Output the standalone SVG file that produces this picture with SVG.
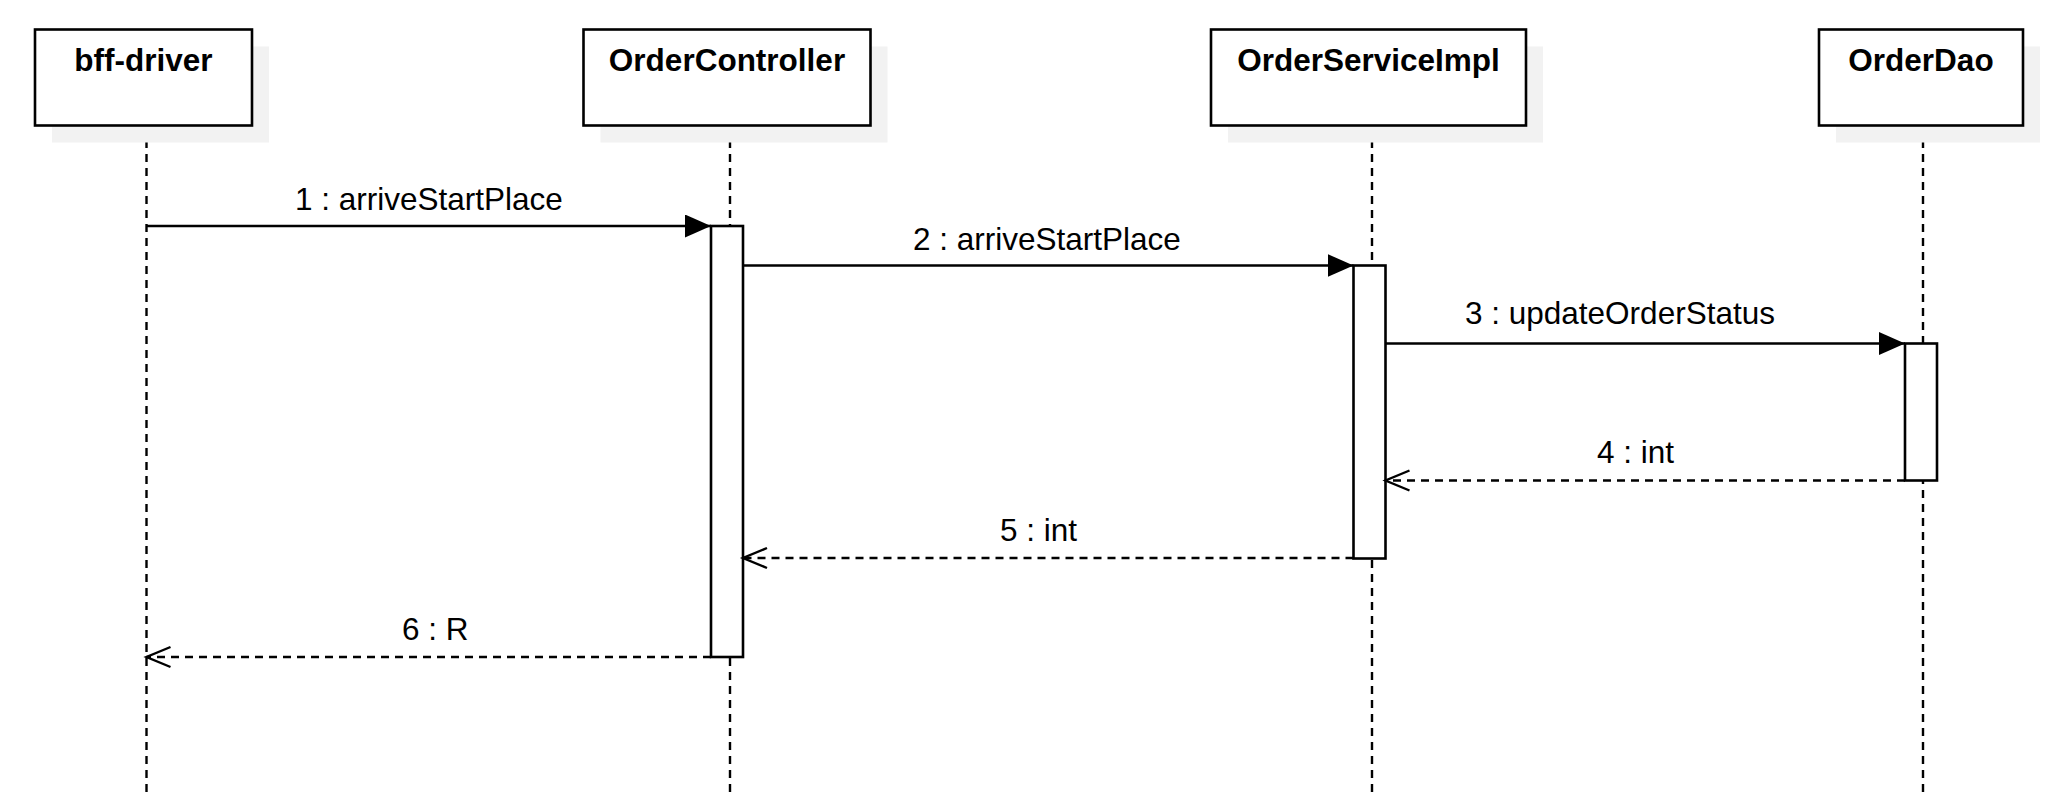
<svg xmlns="http://www.w3.org/2000/svg" width="2065" height="812" viewBox="0 0 2065 812">
  <style>
    .shadow { fill: #f2f2f2; stroke: none; }
    .box { fill: #ffffff; stroke: #000000; stroke-width: 2.6; }
    .title { font-family: "Liberation Sans", Arial, sans-serif; font-size: 31.5px; font-weight: bold; fill: #000000; text-anchor: middle; }
    .lifeline { stroke: #000000; stroke-width: 2.4; stroke-dasharray: 8 6; fill: none; }
    .bar { fill: #ffffff; stroke: #000000; stroke-width: 2.6; }
    .call { stroke: #000000; stroke-width: 2.4; fill: none; marker-end: url(#filled); }
    .reply { stroke: #000000; stroke-width: 2.4; stroke-dasharray: 8 6; fill: none; marker-end: url(#open); }
    .label { font-family: "Liberation Sans", Arial, sans-serif; font-size: 31.5px; fill: #000000; }
  </style>
  <defs>
    <marker id="filled" markerUnits="userSpaceOnUse" markerWidth="26" markerHeight="23" viewBox="0 0 26 23" refX="26" refY="11.5" orient="auto">
      <path d="M0,0 L26,11.5 L0,23 Z" fill="#000000"/>
    </marker>
    <marker id="open" markerUnits="userSpaceOnUse" markerWidth="30" markerHeight="26" viewBox="-2 -3 30 26" refX="24" refY="10" orient="auto">
      <path d="M0,0 L24,10 L0,20" fill="none" stroke="#000000" stroke-width="2.4"/>
    </marker>
  </defs>

  <!-- lifelines -->
  <g id="lifelines">
    <line class="lifeline" x1="146.5" y1="126" x2="146.5" y2="794"/>
    <line class="lifeline" x1="730" y1="126" x2="730" y2="794"/>
    <line class="lifeline" x1="1372" y1="126" x2="1372" y2="794"/>
    <line class="lifeline" x1="1923" y1="126" x2="1923" y2="794"/>
  </g>

  <!-- participants -->
  <g id="bff-driver">
    <rect class="shadow" x="52" y="46.5" width="217" height="96"/>
    <rect class="box" x="35" y="29.5" width="217" height="96"/>
    <text class="title" x="143.5" y="71">bff-driver</text>
  </g>
  <g id="OrderController">
    <rect class="shadow" x="600.5" y="46.5" width="287" height="96"/>
    <rect class="box" x="583.5" y="29.5" width="287" height="96"/>
    <text class="title" x="727" y="71">OrderController</text>
  </g>
  <g id="OrderServiceImpl">
    <rect class="shadow" x="1228" y="46.5" width="315" height="96"/>
    <rect class="box" x="1211" y="29.5" width="315" height="96"/>
    <text class="title" x="1368.5" y="71">OrderServiceImpl</text>
  </g>
  <g id="OrderDao">
    <rect class="shadow" x="1836" y="46.5" width="204" height="96"/>
    <rect class="box" x="1819" y="29.5" width="204" height="96"/>
    <text class="title" x="1921" y="71">OrderDao</text>
  </g>

  <!-- activation bars -->
  <g id="activations">
    <rect class="bar" x="711" y="226" width="32" height="431"/>
    <rect class="bar" x="1353.5" y="265.5" width="32" height="293"/>
    <rect class="bar" x="1905" y="343.5" width="32" height="137"/>
  </g>

  <!-- messages -->
  <g id="connectors">
    <line class="call" x1="146.5" y1="226" x2="711" y2="226"/>
    <line class="call" x1="743" y1="265.5" x2="1353.5" y2="265.5"/>
    <line class="call" x1="1385.5" y1="343.5" x2="1905" y2="343.5"/>
    <line class="reply" x1="1905" y1="480.5" x2="1385.5" y2="480.5"/>
    <line class="reply" x1="1353.5" y1="558" x2="743" y2="558"/>
    <line class="reply" x1="711" y1="657" x2="146.5" y2="657"/>
  </g>

  <g id="labels">
    <text class="label" x="295" y="210">1 : arriveStartPlace</text>
    <text class="label" x="913" y="249.5">2 : arriveStartPlace</text>
    <text class="label" x="1465" y="323.5">3 : updateOrderStatus</text>
    <text class="label" x="1597" y="462.5">4 : int</text>
    <text class="label" x="1000" y="541">5 : int</text>
    <text class="label" x="402" y="640">6 : R</text>
  </g>
</svg>
